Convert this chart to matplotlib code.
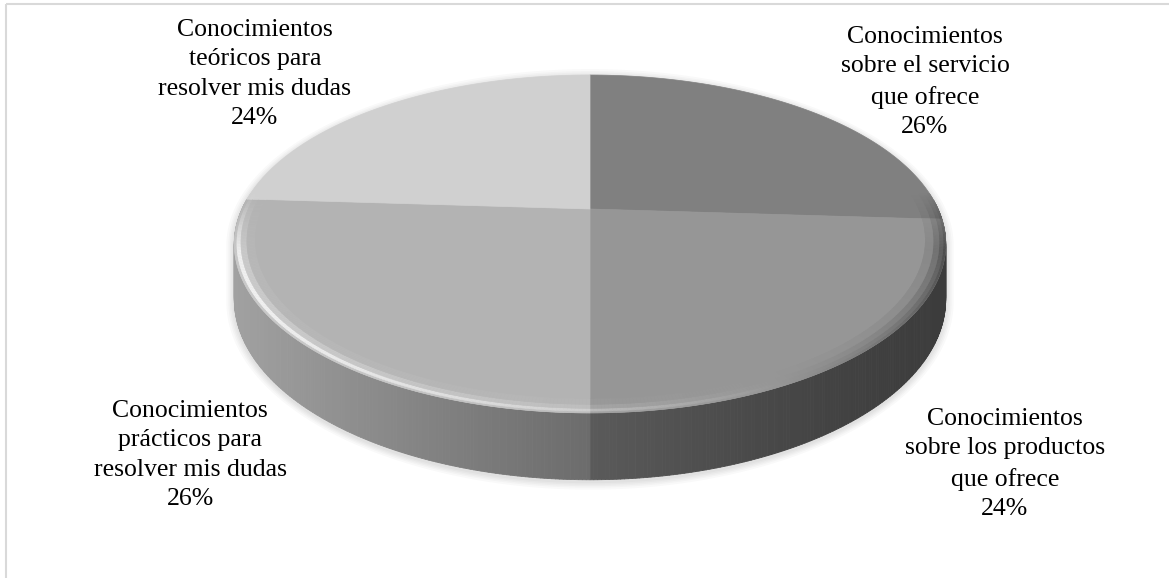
import numpy as np
import matplotlib
matplotlib.use('Agg')
import matplotlib.pyplot as plt
from matplotlib.patches import Polygon, Rectangle
from matplotlib.collections import PolyCollection

# data (clockwise from 12 o'clock)
labels = ['Conocimientos\nsobre el servicio\nque ofrece',
          'Conocimientos\nsobre los productos\nque ofrece',
          'Conocimientos\nprácticos para\nresolver mis dudas',
          'Conocimientos\nteóricos para\nresolver mis dudas']
values = [26, 24, 26, 24]
colors = ['#808080', '#969696', '#b3b3b3', '#d0d0d0']
label_xy = [(925, 82), (1005, 464), (190, 455), (255, 74)]

# pie geometry in pixels (perspective view)
CX, CY = 590, 209
R, S, K, H = 348, 161.7, 0.207, 53


def proj(phi, r=1.0, down=0.0):
    u = r * np.sin(phi)
    v = r * np.cos(phi)
    w = 1 + K * v
    return CX + R * u / w, CY + (-S * v + down) / w


def rgb(c):
    c = c.lstrip('#')
    return np.array([int(c[i:i + 2], 16) / 255 for i in (0, 2, 4)])


fracs = np.array(values) / np.sum(values)
edges = np.concatenate([[0], np.cumsum(fracs)]) * 2 * np.pi


def slice_of(phi):
    phi = phi % (2 * np.pi)
    return min(np.searchsorted(edges, phi, side='right') - 1, len(values) - 1)


fig = plt.figure(figsize=(11.69, 5.78), dpi=100)
ax = fig.add_axes([0, 0, 1, 1])
ax.set_xlim(0, 1169)
ax.set_ylim(578, 0)
ax.axis('off')

ax.add_patch(Rectangle((5.5, 3.5), 1300, 700, fill=False, ec='#d9d9d9', lw=1.5))

# soft shadow
phis = np.linspace(0, 2 * np.pi, 721)
phs = np.arccos(-K)
a1 = np.linspace(-phs, phs, 300)
a2 = np.linspace(phs, 2 * np.pi - phs, 300)
sx = np.concatenate([proj(a1)[0], proj(a2, down=H)[0]])
sy = np.concatenate([proj(a1)[1], proj(a2, down=H)[1]])
mx, my = sx.mean(), sy.mean()
dx, dy = sx - mx, sy - my
nn = np.hypot(dx, dy)
for d in [8, 6, 4.5, 3, 1.5]:
    ax.add_patch(Polygon(np.c_[sx + dx / nn * d, sy + dy / nn * d + 2],
                         closed=True, fc='black', ec='none', alpha=0.025))

# side wall
xl, xr = CX - 356, CX + 356
polys, cols = [], []
for p1, p2 in zip(phis[:-1], phis[1:]):
    pm = (p1 + p2) / 2
    if np.cos(pm) > 0.05:
        continue
    x1, y1 = proj(p1)
    x2, y2 = proj(p2)
    x3, y3 = proj(p2, down=H)
    x4, y4 = proj(p1, down=H)
    t = np.clip(((x1 + x2) / 2 - xl) / (xr - xl), 0, 1)
    shade = 0.4 + 0.5 * (1 - t) ** 1.3
    polys.append([(x1, y1), (x2, y2), (x3, y3), (x4, y4)])
    cols.append(rgb(colors[slice_of(pm)]) * shade)
ax.add_collection(PolyCollection(polys, facecolors=cols, edgecolors=cols, lw=0.6))

# top face
for i in range(len(values)):
    a = np.linspace(edges[i], edges[i + 1], 200)
    px, py = proj(a)
    pts = np.r_[[proj(0, r=0)], np.c_[px, py]]
    ax.add_patch(Polygon(pts, closed=True, fc=colors[i], ec=colors[i], lw=0.5))

# bevel on the front rim
bands = [(1.0, 0.993, 0.3, 0.65), (0.993, 0.982, 0.8, 0.5),
         (0.982, 0.966, 0.3, 0.32), (0.966, 0.945, 0.06, 0.12)]
polys, cols = [], []
for ro, ri, fh, fd in bands:
    for p1, p2 in zip(phis[:-1], phis[1:]):
        pm = (p1 + p2) / 2
        u, v = np.sin(pm), np.cos(pm)
        wgt = np.clip((0.1 - v) / 0.35, 0, 1)
        if wgt <= 0:
            continue
        dot = (-0.9 * u - 0.45 * v) / np.hypot(0.9, 0.45)
        base = rgb(colors[slice_of(pm)])
        if dot > 0:
            c = base + (1 - base) * fh * dot * wgt
        else:
            c = base * (1 - fd * (-dot) * wgt)
        polys.append([proj(p1, ro), proj(p2, ro), proj(p2, ri), proj(p1, ri)])
        cols.append(c)
ax.add_collection(PolyCollection(polys, facecolors=cols, edgecolors=cols, lw=0.4))

# labels
for (x, y), lab, val in zip(label_xy, labels, fracs):
    ax.text(x, y, f'{lab}\n{val:.0%}', ha='center', va='center',
            fontsize=18.5, family='Liberation Serif', linespacing=1.45)

fig.savefig('out.png', dpi=100)
